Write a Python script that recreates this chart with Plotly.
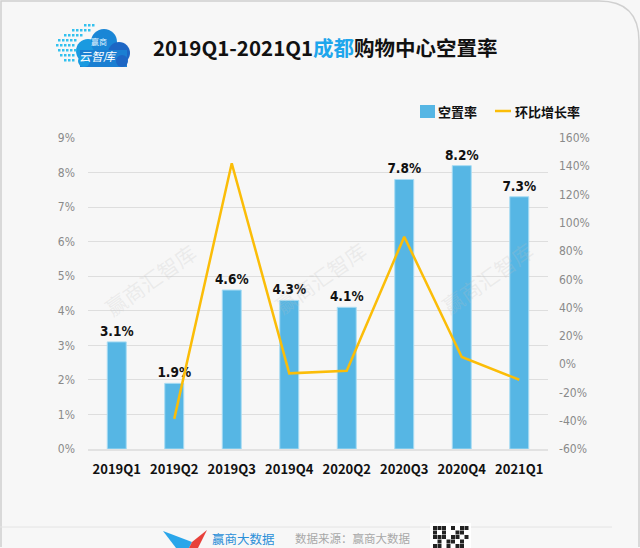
import plotly.graph_objects as go

categories = ["2019Q1", "2019Q2", "2019Q3", "2019Q4", "2020Q2", "2020Q3", "2020Q4", "2021Q1"]
vacancy = [3.1, 1.9, 4.6, 4.3, 4.1, 7.8, 8.2, 7.3]
growth = [None, -38.7, 142.1, -6.5, -4.7, 90.2, 5.1, -11.0]
vacancy_labels = ["3.1%", "1.9%", "4.6%", "4.3%", "4.1%", "7.8%", "8.2%", "7.3%"]
left_ticks = [0, 1, 2, 3, 4, 5, 6, 7, 8, 9]
left_tick_text = ["0%", "1%", "2%", "3%", "4%", "5%", "6%", "7%", "8%", "9%"]
right_ticks = [-60, -40, -20, 0, 20, 40, 60, 80, 100, 120, 140, 160]
right_tick_text = ["-60%", "-40%", "-20%", "0%", "20%", "40%", "60%", "80%",
                   "100%", "120%", "140%", "160%"]
series_names = ["空置率", "环比增长率"]

W, H = 640, 548
L, R, T, B = 88, 92, 138, 99
PW, PH = W - L - R, H - T - B

def px(x):
    return (x - L) / PW

def py(y):
    return (H - B - y) / PH

NARROW = "DejaVu Sans Condensed, Liberation Sans Narrow, Arial Narrow, sans-serif"
CJK = "Noto Sans CJK SC, Noto Sans, sans-serif"
BAR_COLOR = "#56b6e4"
LINE_COLOR = "#fbbd08"

fig = go.Figure()
fig.add_trace(go.Bar(
    x=categories, y=vacancy, name=series_names[0],
    marker=dict(color=BAR_COLOR, line=dict(color="#a9dcf3", width=1)),
    width=0.33,
    text=vacancy_labels, textposition="outside", constraintext="none",
    textfont=dict(family=NARROW, size=13.5, color="#111111", weight="bold"),
    cliponaxis=False, yaxis="y", showlegend=False,
))
fig.add_trace(go.Scatter(
    x=categories, y=growth, name=series_names[1], mode="lines",
    line=dict(color=LINE_COLOR, width=2.5), yaxis="y2", connectgaps=False,
    showlegend=False,
))

shapes = []
annotations = []

def rect(x0, y0, x1, y1, color, layer="above"):
    shapes.append(dict(type="rect", xref="paper", yref="paper",
                       x0=px(x0), x1=px(x1), y0=py(y1), y1=py(y0),
                       fillcolor=color, line=dict(width=0), layer=layer))

def circle(cx, cy, rr, color):
    shapes.append(dict(type="circle", xref="paper", yref="paper",
                       x0=px(cx - rr), x1=px(cx + rr), y0=py(cy + rr), y1=py(cy - rr),
                       fillcolor=color, line=dict(width=0), layer="below"))

def poly(points, color):
    d = "M " + " L ".join(f"{px(a)} {py(b)}" for a, b in points) + " Z"
    shapes.append(dict(type="path", xref="paper", yref="paper", path=d,
                       fillcolor=color, line=dict(width=0)))

def text(x, y, s, size, color, anchor="center", angle=0):
    annotations.append(dict(xref="paper", yref="paper", x=px(x), y=py(y), text=s,
                            xanchor=anchor, yanchor="middle", showarrow=False,
                            textangle=angle, font=dict(family=CJK, size=size, color=color)))

# outer border with rounded top-right corner
shapes.append(dict(
    type="path", xref="paper", yref="paper",
    path=f"M {px(1)} {py(547)} L {px(1)} {py(1)} L {px(599)} {py(1)} Q {px(639)} {py(1)} {px(639)} {py(41)} L {px(639)} {py(547)}",
    line=dict(color="#d0d0d0", width=1.5), fillcolor="rgba(0,0,0,0)", layer="below",
))
# bottom separator
shapes.append(dict(type="line", xref="paper", yref="paper",
                   x0=px(0), x1=px(612), y0=py(527), y1=py(527),
                   line=dict(color="#e4e4e4", width=1)))

# manual legend
rect(420, 105, 435, 118, BAR_COLOR)
shapes.append(dict(type="line", xref="paper", yref="paper",
                   x0=px(495), x1=px(511), y0=py(111), y1=py(111),
                   line=dict(color=LINE_COLOR, width=2.5)))
text(436, 111, f"<b>{series_names[0]}</b>", 13, "#111111", anchor="left")
text(513, 111, f"<b>{series_names[1]}</b>", 13, "#111111", anchor="left")

# top-left cloud logo
circle(88, 51, 12, "#1a9ae0")
circle(104, 42, 13, "#1a86d6")
circle(119, 53, 11, "#1d66c4")
rect(80, 50, 127, 67, "#1a7fd2", layer="below")
circle(84, 61, 6, "#1a9ae0")
circle(122, 61, 6, "#1d66c4")
for (dx, dy, n) in [(84, 24, 3), (72, 29, 5), (64, 34, 5), (58, 39, 5), (56, 44, 5),
                    (58, 49, 5), (60, 54, 4), (64, 59, 3)]:
    for k in range(n):
        rect(dx + k * 4, dy, dx + k * 4 + 2.5, dy + 2.5, "#33c1ef", layer="below")
text(99, 41, "赢商", 8, "#dff3ff")
text(98, 55, "<i>云智库</i>", 12, "white")

# title
text(325, 47, "<b>2019Q1-2021Q1<span style='color:#1ea6ec'>成都</span>购物中心空置率</b>",
     20.5, "#111111")

# watermarks
for (wx, wy) in [(150, 280), (320, 278), (487, 278)]:
    text(wx, wy, "赢商汇智库", 21, "rgba(190,190,190,0.22)", angle=-35)

# bottom branding
poly([(163, 531), (192, 542), (189, 548), (176, 548)], "#2aa6ea")
poly([(207, 530), (192, 542), (189, 548), (198, 548)], "#e8403a")
text(210, 538, "赢商大数据", 12.5, "#2a8fd8", anchor="left")
text(293, 538, "数据来源：赢商大数据", 11.5, "#a8a8a8", anchor="left")
# QR code-ish block
rect(430, 523, 471, 548, "white")
qr = ["11101011", "10100110", "11101101", "01011010", "11010110"]
for ri, row in enumerate(qr):
    for ci, c in enumerate(row):
        if c == "1":
            rect(433 + ci * 4.5, 526 + ri * 4.5, 437 + ci * 4.5, 530 + ri * 4.5, "#222222")

fig.update_layout(
    width=W, height=H,
    margin=dict(l=L, r=R, t=T, b=B),
    paper_bgcolor="#f7f7f7", plot_bgcolor="#f7f7f7",
    showlegend=False,
    xaxis=dict(tickfont=dict(family=CJK, size=13, color="#111111"),
               showline=True, linecolor="#e2e2e2", linewidth=1.5, ticks="",
               showgrid=False, tickprefix="<b>", ticksuffix="</b>",
               ticklabelstandoff=8),
    yaxis=dict(range=[0, 9], tickmode="array", tickvals=left_ticks, ticktext=left_tick_text,
               tickfont=dict(family=NARROW, size=12, color="#8a8a8a"),
               showgrid=True, gridcolor="#dedede", gridwidth=1, zeroline=False,
               ticks="", ticklabelstandoff=12),
    yaxis2=dict(range=[-60, 160], tickmode="array", tickvals=right_ticks, ticktext=right_tick_text,
                overlaying="y", side="right", showgrid=False, zeroline=False,
                tickfont=dict(family=NARROW, size=12, color="#8a8a8a"),
                ticks="", ticklabelstandoff=10),
    bargap=0.67,
    shapes=shapes, annotations=annotations,
)

fig.write_html("out.html", config={"displayModeBar": False},
               post_script="document.body.style.margin='0';")
